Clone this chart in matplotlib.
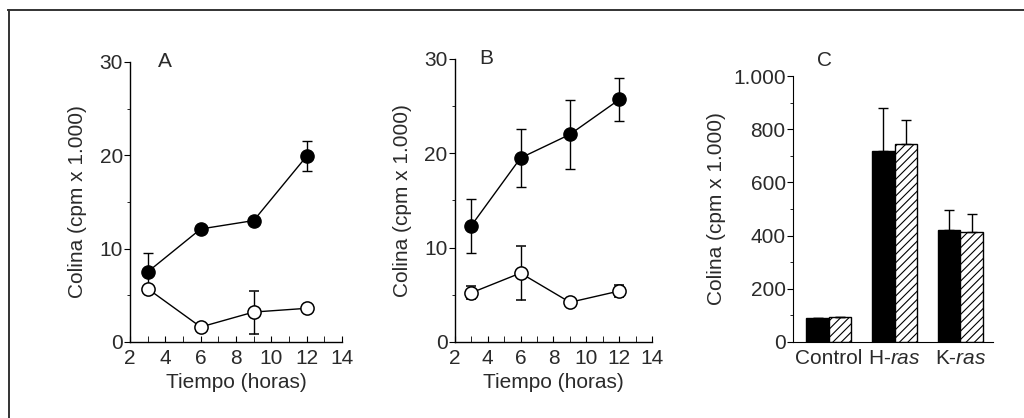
import numpy as np
import matplotlib
matplotlib.use("Agg")
import matplotlib.pyplot as plt
from matplotlib.lines import Line2D
from matplotlib.ticker import MultipleLocator

plt.rcParams['font.family'] = ['Liberation Sans', 'DejaVu Sans']
plt.rcParams['mathtext.fontset'] = 'custom'
plt.rcParams['mathtext.it'] = 'Liberation Sans:italic'
plt.rcParams['mathtext.rm'] = 'Liberation Sans'
plt.rcParams['hatch.linewidth'] = 0.8

# --- data ---
horas = [3, 6, 9, 12]

a_filled = [7.5, 12.1, 13.0, 19.9]
a_filled_err = [2.0, 0.0, 0.0, 1.6]
a_open = [5.7, 1.6, 3.2, 3.6]
a_open_err = [0.0, 0.0, 2.3, 0.0]

b_filled = [12.3, 19.5, 22.0, 25.7]
b_filled_err = [2.85, 3.05, 3.65, 2.3]
b_open = [5.2, 7.3, 4.2, 5.4]
b_open_err = [0.7, 2.85, 0.0, 0.6]

grupos = ['Control', r'H-$\mathit{ras}$', r'K-$\mathit{ras}$']
c_black = [90, 720, 422]
c_black_err = [0, 161, 76]
c_hatch = [94, 743, 414]
c_hatch_err = [0, 91, 68]

txt = '#2a2a2a'
fs = 15

fig = plt.figure(figsize=(10.24, 4.18), dpi=100)

# page frame (top and left rules)
fig.add_artist(Line2D([0.008, 1.0], [0.976, 0.976], color='#333333', lw=1.4))
fig.add_artist(Line2D([0.009, 0.009], [0.976, 0.0], color='#333333', lw=1.4))


def time_panel(rect, filled, ferr, opn, oerr, letter, lx):
    ax = fig.add_axes(rect)
    ax.errorbar(horas, filled, yerr=ferr, color='black', lw=1, marker='o',
                ms=9.5, mfc='black', mec='black', capsize=3.5, elinewidth=1,
                zorder=3, clip_on=False)
    ax.errorbar(horas, opn, yerr=oerr, color='black', lw=1, marker='o',
                ms=9.5, mfc='white', mec='black', mew=1.1, capsize=3.5,
                elinewidth=1, zorder=3, clip_on=False)
    ax.set_xlim(2, 14)
    ax.set_ylim(0, 30)
    ax.set_xticks(range(2, 15, 2))
    ax.xaxis.set_minor_locator(MultipleLocator(1))
    ax.set_yticks([0, 10, 20, 30])
    ax.yaxis.set_minor_locator(MultipleLocator(5))
    for s in ['top', 'right']:
        ax.spines[s].set_visible(False)
    for s in ['left', 'bottom']:
        ax.spines[s].set_linewidth(1)
    ax.tick_params(axis='x', which='both', direction='in', length=4,
                   labelsize=fs, labelcolor=txt, pad=5)
    ax.tick_params(axis='y', which='major', direction='out', length=4,
                   labelsize=fs, labelcolor=txt, pad=1)
    ax.tick_params(axis='y', which='minor', direction='out', length=2)
    ax.set_xlabel('Tiempo (horas)', fontsize=fs, color=txt, labelpad=4)
    ax.set_ylabel('Colina (cpm x 1.000)', fontsize=fs, color=txt, labelpad=9)
    ax.text(lx, 30, letter, fontsize=fs, color=txt, ha='left', va='center')
    return ax


time_panel([0.127, 0.182, 0.207, 0.670], a_filled, a_filled_err,
           a_open, a_open_err, 'A', 3.6)
time_panel([0.444, 0.182, 0.193, 0.677], b_filled, b_filled_err,
           b_open, b_open_err, 'B', 3.5)

# panel C: bars
axc = fig.add_axes([0.774, 0.182, 0.196, 0.636])
x = np.arange(len(grupos))
w = 0.34
axc.bar(x - w / 2, c_black, w, color='black', edgecolor='black', lw=1,
        yerr=[np.zeros(3), c_black_err], capsize=3.5,
        error_kw=dict(elinewidth=1, capthick=1, ecolor='black'))
axc.bar(x + w / 2, c_hatch, w, color='white', edgecolor='black', lw=1,
        hatch='////', yerr=[np.zeros(3), c_hatch_err], capsize=3.5,
        error_kw=dict(elinewidth=1, capthick=1, ecolor='black'))
axc.set_xlim(-0.55, 2.5)
axc.set_ylim(0, 1000)
axc.set_yticks([0, 200, 400, 600, 800, 1000])
axc.set_yticklabels(['0', '200', '400', '600', '800', '1.000'])
axc.yaxis.set_minor_locator(MultipleLocator(100))
axc.set_xticks(x)
axc.set_xticklabels(grupos)
for s in ['top', 'right']:
    axc.spines[s].set_visible(False)
axc.tick_params(axis='x', length=0, labelsize=fs, labelcolor=txt, pad=5)
axc.tick_params(axis='y', which='major', direction='out', length=4,
                labelsize=fs, labelcolor=txt, pad=1)
axc.tick_params(axis='y', which='minor', direction='out', length=2)
axc.set_ylabel('Colina (cpm x 1.000)', fontsize=fs, color=txt, labelpad=5)
axc.text(0.12, 1.06, 'C', transform=axc.transAxes, fontsize=fs, color=txt,
         ha='left', va='center')

fig.savefig('out.png', dpi=100, facecolor='white')
